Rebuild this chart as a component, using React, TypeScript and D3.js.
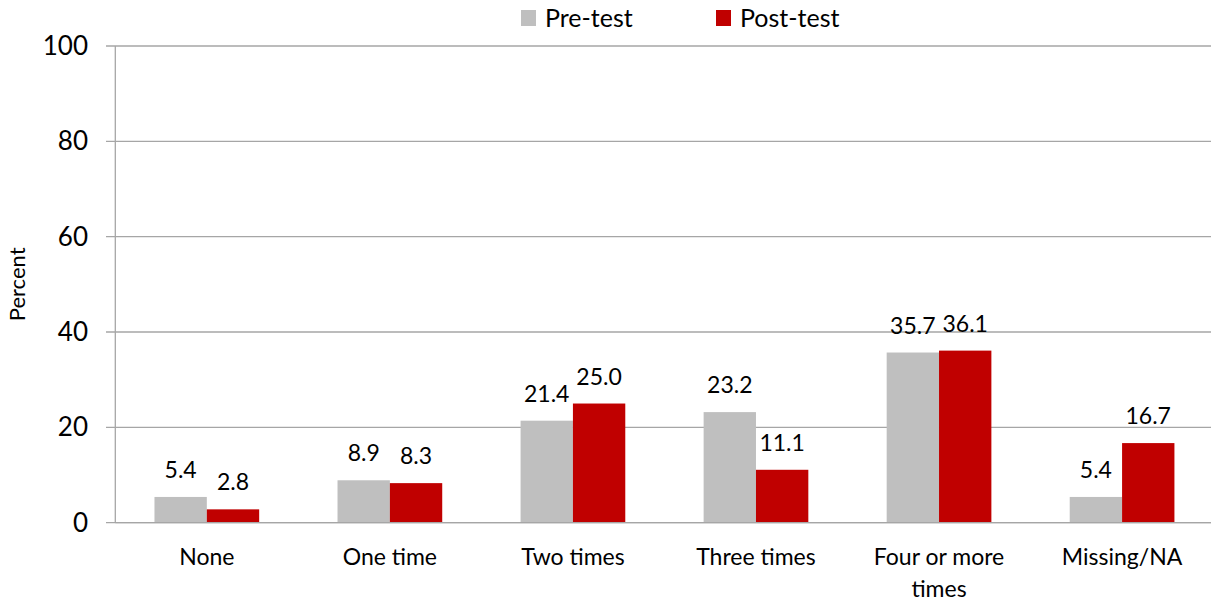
import React from "react";
import * as d3 from "d3";

const categories: string[][] = [["None"], ["One time"], ["Two times"], ["Three times"], ["Four or more", "times"], ["Missing/NA"]];
const preTest: number[] = [5.4, 8.9, 21.4, 23.2, 35.7, 5.4];
const postTest: number[] = [2.8, 8.3, 25.0, 11.1, 36.1, 16.7];
const yTicks: number[] = [0, 20, 40, 60, 80, 100];
const seriesNames = ["Pre-test", "Post-test"];
const colors = ["#BFBFBF", "#C00000"];

const W = 1211, H = 605;
const left = 115.3, right = 1213.6, top = 46, bottom = 522.7;
const font = "Lato, 'Open Sans', sans-serif";

export default function App() {
  const keys = categories.map((c) => c.join(" "));
  const x = d3.scaleBand<string>().domain(keys).range([left, right]).paddingInner(0.428).paddingOuter(0.214);
  const x1 = d3.scaleBand<string>().domain(seriesNames).range([0, x.bandwidth()]).padding(0);
  const y = d3.scaleLinear().domain([0, 100]).range([bottom, top]);
  const series = [preTest, postTest];
  return (
    <svg width={W} height={H} style={{ position: "absolute", left: 0, top: 0, background: "#fff" }} fontFamily={font}>
      {yTicks.map((t) => (
        <g key={t}>
          <line x1={106} x2={W} y1={y(t)} y2={y(t)} stroke="#A6A6A6" strokeWidth={1.3} />
          <text x={88} y={y(t)} dy="0.35em" textAnchor="end" fontSize={26} fill="#000">{t}</text>
        </g>
      ))}
      <line x1={left} x2={left} y1={top} y2={bottom} stroke="#A6A6A6" strokeWidth={1.3} />
      {keys.map((k, i) => (
        <g key={k}>
          {series.map((s, j) => {
            const bx = (x(k) as number) + (x1(seriesNames[j]) as number);
            const bw = x1.bandwidth();
            return (
              <g key={j}>
                <rect x={bx} y={y(s[i])} width={bw} height={y(0) - y(s[i])} fill={colors[j]} />
                <text x={bx + bw / 2} y={y(s[i]) - 19} textAnchor="middle" fontSize={23} fill="#000">
                  {s[i].toFixed(1)}
                </text>
              </g>
            );
          })}
          {categories[i].map((line, li) => (
            <text key={li} x={(x(k) as number) + x.bandwidth() / 2} y={565 + li * 32} textAnchor="middle" fontSize={23} fill="#000">
              {line}
            </text>
          ))}
        </g>
      ))}
      <line x1={left} x2={W} y1={bottom} y2={bottom} stroke="#A6A6A6" strokeWidth={1.3} />
      <text transform={`translate(25,${(top + bottom) / 2}) rotate(-90)`} textAnchor="middle" fontSize={22} fill="#000">Percent</text>
      {seriesNames.map((n, j) => (
        <g key={n}>
          <rect x={521 + j * 195} y={10} width={15} height={16} fill={colors[j]} />
          <text x={545 + j * 195} y={27} fontSize={25} fill="#000">{n}</text>
        </g>
      ))}
    </svg>
  );
}
